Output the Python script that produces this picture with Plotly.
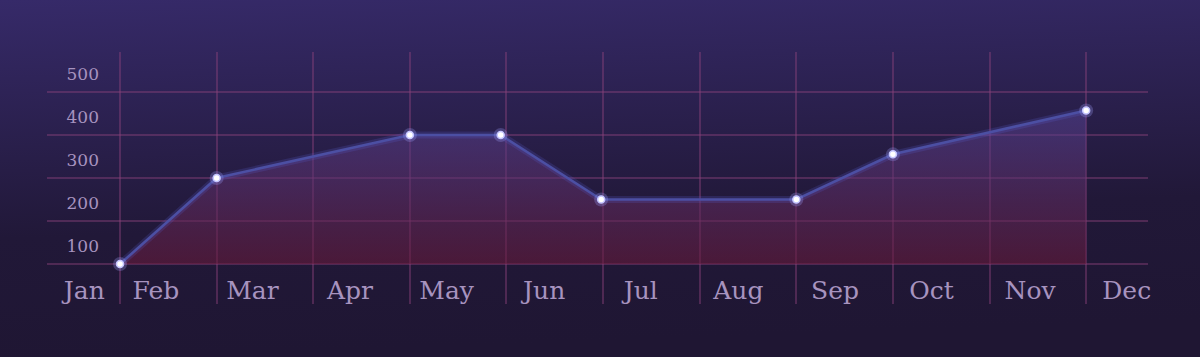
import base64
import plotly.graph_objects as go

# ---------------- data ----------------
months = ["Jan", "Feb", "Mar", "Apr", "May", "Jun",
          "Jul", "Aug", "Sep", "Oct", "Nov", "Dec"]
month_label_pos = [-0.37, 0.37, 1.37, 2.38, 3.38, 4.39,
                   5.39, 6.40, 7.40, 8.40, 9.42, 10.42]
point_x = [0, 1, 3, 3.94, 4.98, 7, 8, 10]
point_y = [0, 200, 300, 300, 150, 150, 255, 357]
y_tick_labels = [100, 200, 300, 400, 500]
grid_x = list(range(0, 11))
grid_y = [0, 100, 200, 300, 400]

# ---------------- layout constants ----------------
W, H = 1200, 357
ML, MR, MT, MB = 47, 52, 52, 53
X_RANGE = [-0.756, 10.64]
Y_RANGE = [-93, 493]
TEXT = "#a793bf"
GRID = "rgba(140,66,122,0.44)"
FONT = "DejaVu Serif"

pw = W - ML - MR
ph = H - MT - MB

svg = (
    f'<svg xmlns="http://www.w3.org/2000/svg" width="{W}" height="{H}" '
    f'viewBox="0 0 {W} {H}" preserveAspectRatio="none">'
    '<defs><linearGradient id="g" x1="0" y1="0" x2="0.12" y2="1">'
    '<stop offset="0" stop-color="#362a69"/>'
    '<stop offset="0.66" stop-color="#211838"/>'
    '<stop offset="1" stop-color="#1f1633"/>'
    '</linearGradient></defs>'
    f'<rect x="0" y="0" width="{W}" height="{H}" fill="url(#g)"/></svg>'
)
bg_src = "data:image/svg+xml;base64," + base64.b64encode(svg.encode()).decode()

fig = go.Figure()

# filled area
fig.add_trace(go.Scatter(
    x=point_x, y=point_y, mode="lines", line=dict(width=0),
    fill="tozeroy",
    fillgradient=dict(type="vertical",
                      colorscale=[[0, "rgba(104,26,58,0.58)"],
                                  [1, "rgba(85,68,150,0.52)"]]),
    hoverinfo="skip",
))
# glow of line
fig.add_trace(go.Scatter(
    x=point_x, y=point_y, mode="lines",
    line=dict(color="rgba(90,95,210,0.2)", width=7),
    hoverinfo="skip",
))
# line
fig.add_trace(go.Scatter(
    x=point_x, y=point_y, mode="lines",
    line=dict(color="#4c4fa3", width=2.6),
    hoverinfo="skip",
))
# marker halo
fig.add_trace(go.Scatter(
    x=point_x, y=point_y, mode="markers",
    marker=dict(size=14, color="rgba(150,150,240,0.3)", line=dict(width=0)),
    hoverinfo="skip",
))
# markers
fig.add_trace(go.Scatter(
    x=point_x, y=point_y, mode="markers",
    marker=dict(size=7, color="#ffffff", line=dict(width=1.5, color="#c4c4ff")),
    hoverinfo="skip",
))

fig.update_layout(
    width=W, height=H,
    margin=dict(l=ML, r=MR, t=MT, b=MB, pad=0),
    paper_bgcolor="#201735",
    plot_bgcolor="rgba(0,0,0,0)",
    showlegend=False,
    hovermode=False,
    images=[dict(
        source=bg_src, xref="paper", yref="paper",
        x=-ML / pw, y=1 + MT / ph, sizex=W / pw, sizey=H / ph,
        xanchor="left", yanchor="top", sizing="stretch", layer="below",
    )],
    xaxis=dict(
        range=X_RANGE, tickmode="array",
        tickvals=month_label_pos, ticktext=months,
        ticklabelposition="outside", ticks="", ticklabelstandoff=-31,
        showgrid=False, zeroline=False, showline=False,
        tickfont=dict(family=FONT, size=25, color=TEXT),
        minor=dict(tickmode="array", tickvals=grid_x, showgrid=True,
                   gridcolor=GRID, gridwidth=2, ticks=""),
        fixedrange=True,
    ),
    yaxis=dict(
        range=Y_RANGE, tickmode="array",
        tickvals=[v - 50 for v in y_tick_labels],
        ticktext=[str(v) for v in y_tick_labels],
        ticklabelposition="outside", ticks="", ticklabelstandoff=-53,
        ticklabelshift=4,
        showgrid=False, zeroline=False, showline=False,
        tickfont=dict(family=FONT, size=17, color=TEXT),
        minor=dict(tickmode="array", tickvals=grid_y, showgrid=True,
                   gridcolor=GRID, gridwidth=2, ticks=""),
        fixedrange=True,
    ),
)

fig.write_html("out.html", config={"displayModeBar": False})
